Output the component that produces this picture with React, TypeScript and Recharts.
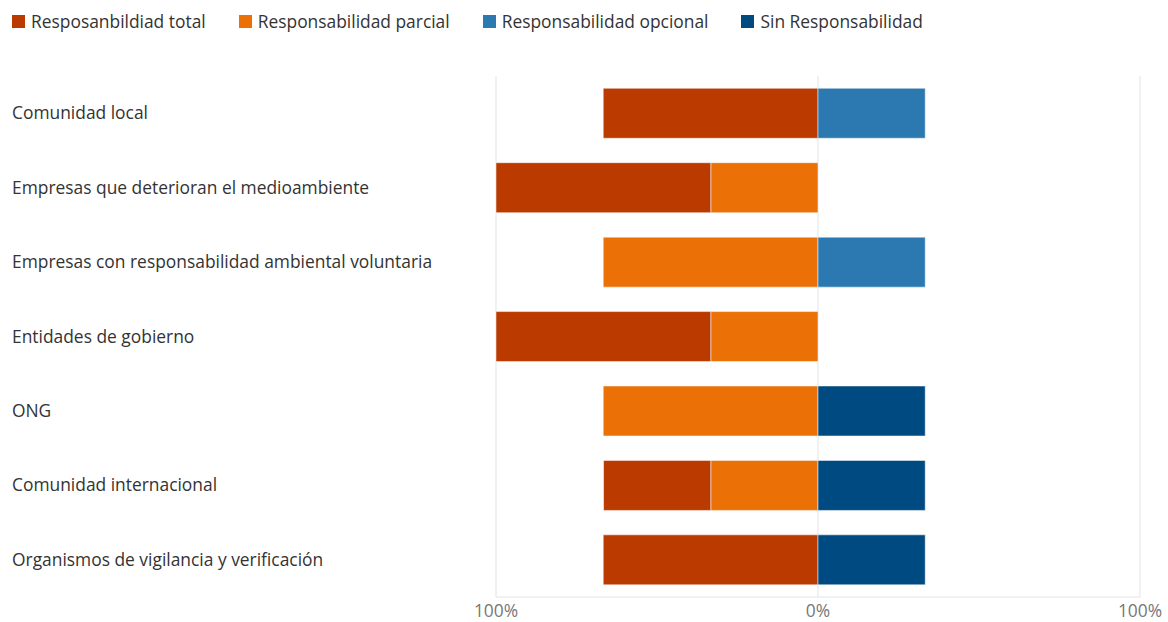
import { Bar, BarChart, CartesianGrid, XAxis, YAxis } from "recharts";

const categories = [
  "Comunidad local",
  "Empresas que deterioran el medioambiente",
  "Empresas con responsabilidad ambiental voluntaria",
  "Entidades de gobierno",
  "ONG",
  "Comunidad internacional",
  "Organismos de vigilancia y verificación",
];

// negative side = responsibility, positive side = optional / none
const totalValues = [-66.7, -66.7, 0, -66.7, 0, -33.3, -66.7];
const parcialValues = [0, -33.3, -66.7, -33.3, -66.7, -33.3, 0];
const opcionalValues = [33.3, 0, 33.3, 0, 0, 0, 0];
const sinValues = [0, 0, 0, 0, 33.3, 33.3, 33.3];

const axisTicks = [-100, 0, 100];

const series = [
  { key: "total", name: "Resposanbildiad total", color: "#BA3A00" },
  { key: "parcial", name: "Responsabilidad parcial", color: "#EB7106" },
  { key: "opcional", name: "Responsabilidad opcional", color: "#2B79B0" },
  { key: "sin", name: "Sin Responsabilidad", color: "#004A82" },
];

const data = categories.map((name, i) => ({
  name,
  total: totalValues[i],
  parcial: parcialValues[i],
  opcional: opcionalValues[i],
  sin: sinValues[i],
}));

const font = "'Open Sans', 'Noto Sans', sans-serif";
const fs = 17.4;

function CategoryTick(props: any) {
  const { y, payload } = props;
  return (
    <text x={12} y={y} dy="0.35em" textAnchor="start" fill="#333" fontSize={fs} fontFamily={font}>
      {payload.value}
    </text>
  );
}

// stacking order: first bar sits closest to zero
const stackOrder = ["parcial", "total", "opcional", "sin"];

export default function App() {
  return (
    <div style={{ position: "absolute", left: 0, top: 0, width: 1168, height: 622, background: "#fff", fontFamily: font }}>
      <div style={{ position: "absolute", left: 12, top: 9, display: "flex", alignItems: "center" }}>
        {series.map((s) => (
          <div key={s.key} style={{ display: "flex", alignItems: "center", marginRight: 33 }}>
            <span style={{ width: 13, height: 13, background: s.color, marginRight: 6, display: "inline-block" }} />
            <span style={{ fontSize: fs, color: "#333" }}>{s.name}</span>
          </div>
        ))}
      </div>
      <BarChart
        width={1168}
        height={622}
        data={data}
        layout="vertical"
        stackOffset="sign"
        barCategoryGap="16.5%"
        margin={{ top: 76, right: 28, left: 0, bottom: 0 }}
      >
        <CartesianGrid horizontal={false} stroke="#e3e3e3" />
        <XAxis
          type="number"
          domain={[-100, 100]}
          ticks={axisTicks}
          tickFormatter={(v: number) => `${Math.abs(v)}%`}
          height={25}
          tickLine={false}
          axisLine={{ stroke: "#e3e3e3" }}
          tick={{ fill: "#777", fontSize: fs, fontFamily: font }}
        />
        <YAxis type="category" dataKey="name" width={496} tickLine={false} axisLine={false} tick={<CategoryTick />} />
        {stackOrder.map((key) => {
          const s = series.find((x) => x.key === key)!;
          return (
            <Bar
              key={key}
              dataKey={key}
              name={s.name}
              stackId="a"
              fill={s.color}
              stroke="#fff"
              strokeOpacity={0.5}
              isAnimationActive={false}
            />
          );
        })}
      </BarChart>
    </div>
  );
}
